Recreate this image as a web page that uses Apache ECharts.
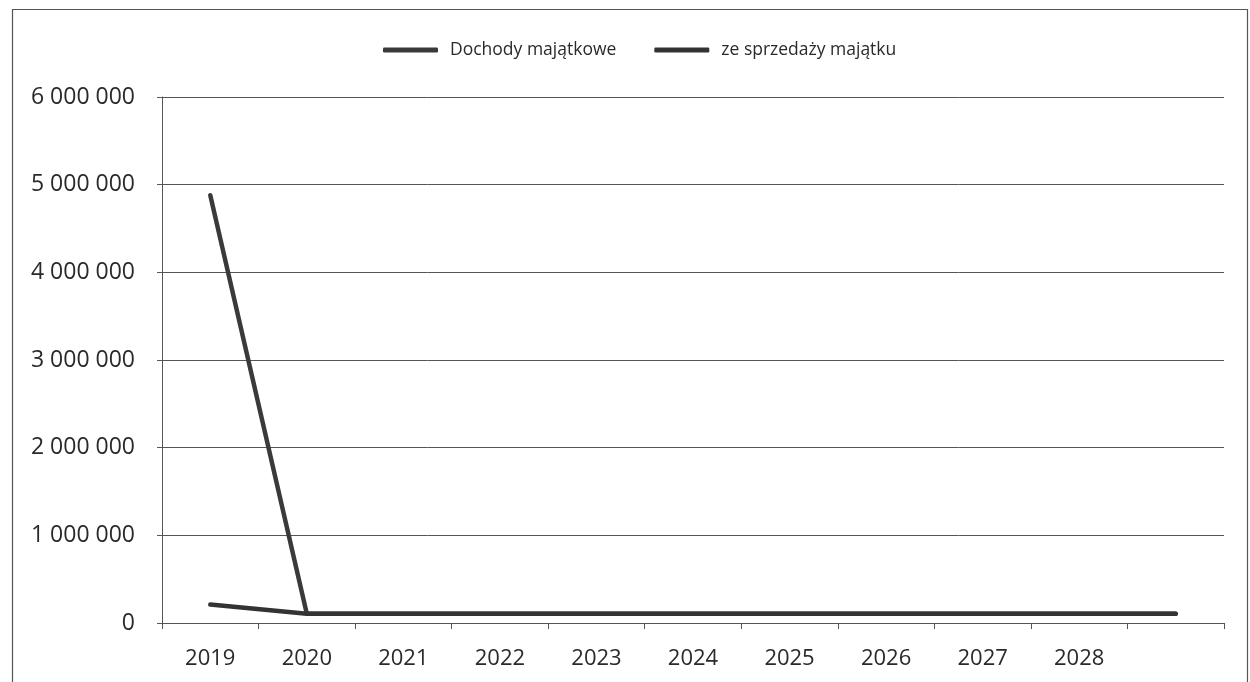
<!DOCTYPE html>
<html>
<head>
<meta charset="utf-8">
<script src="https://cdn.jsdelivr.net/npm/echarts@6/dist/echarts.min.js"></script>
<style>
  html, body { margin: 0; padding: 0; background: #fff; }
  #chart { width: 1250px; height: 682px; }
</style>
</head>
<body>
<div id="chart"></div>
<script>
// Years on the x axis; the last slot has no label
const years = ['2019', '2020', '2021', '2022', '2023', '2024', '2025', '2026', '2027', '2028', ''];

// Dochody majątkowe
const dochodyMajatkowe = [4880000, 105000, 105000, 105000, 105000, 105000, 105000, 105000, 105000, 105000, 105000];

// ze sprzedaży majątku
const zeSprzedazy = [210000, 105000, 105000, 105000, 105000, 105000, 105000, 105000, 105000, 105000, 105000];

// y axis ticks
const yMax = 6000000;
const yStep = 1000000;

function spaced(v) {
  return String(v).replace(/\B(?=(\d{3})+(?!\d))/g, ' ');
}

const chart = echarts.init(document.getElementById('chart'), null, { renderer: 'canvas' });

const lineColor = '#333333';
const axisColor = '#555555';
const font = '"Open Sans", "DejaVu Sans", sans-serif';

chart.setOption({
  animation: false,
  backgroundColor: '#ffffff',
  graphic: [{
    type: 'rect',
    shape: { x: 12.5, y: 9.5, width: 1235, height: 690 },
    style: { fill: 'none', stroke: '#555', lineWidth: 1.2 },
    silent: true
  }],
  legend: {
    left: 378,
    top: 36,
    itemWidth: 55,
    itemHeight: 5,
    itemGap: 38,
    icon: 'roundRect',
    textStyle: {
      fontFamily: font,
      fontSize: 17.5,
      color: '#2a2a2a',
      padding: [0, 0, 0, 7]
    },
    data: ['Dochody majątkowe', 'ze sprzedaży majątku']
  },
  grid: {
    left: 162,
    right: 26,
    top: 97,
    bottom: 59,
    containLabel: false
  },
  xAxis: {
    type: 'category',
    data: years,
    boundaryGap: true,
    axisLine: { show: true, lineStyle: { color: axisColor, width: 1 } },
    axisTick: { show: true, inside: false, length: 6, alignWithLabel: false, lineStyle: { color: axisColor } },
    axisLabel: {
      fontFamily: font,
      fontSize: 22,
      color: '#2a2a2a',
      margin: 25,
      interval: 0
    },
    splitLine: { show: false }
  },
  yAxis: {
    type: 'value',
    min: 0,
    max: yMax,
    interval: yStep,
    axisLine: { show: true, lineStyle: { color: axisColor, width: 1 } },
    axisTick: { show: true, inside: false, length: 5, lineStyle: { color: axisColor } },
    axisLabel: {
      fontFamily: font,
      fontSize: 23,
      color: '#2a2a2a',
      margin: 27,
      formatter: spaced
    },
    splitLine: { show: true, lineStyle: { color: axisColor, width: 1 } }
  },
  series: [
    {
      name: 'Dochody majątkowe',
      type: 'line',
      data: dochodyMajatkowe,
      showSymbol: false,
      symbol: 'none',
      itemStyle: { color: '#3a3a3a' },
      lineStyle: { color: '#3a3a3a', width: 4.5, cap: 'round', join: 'round' }
    },
    {
      name: 'ze sprzedaży majątku',
      type: 'line',
      data: zeSprzedazy,
      showSymbol: false,
      symbol: 'none',
      itemStyle: { color: lineColor },
      lineStyle: { color: lineColor, width: 4.5, cap: 'round', join: 'round' }
    }
  ]
});
</script>
</body>
</html>
